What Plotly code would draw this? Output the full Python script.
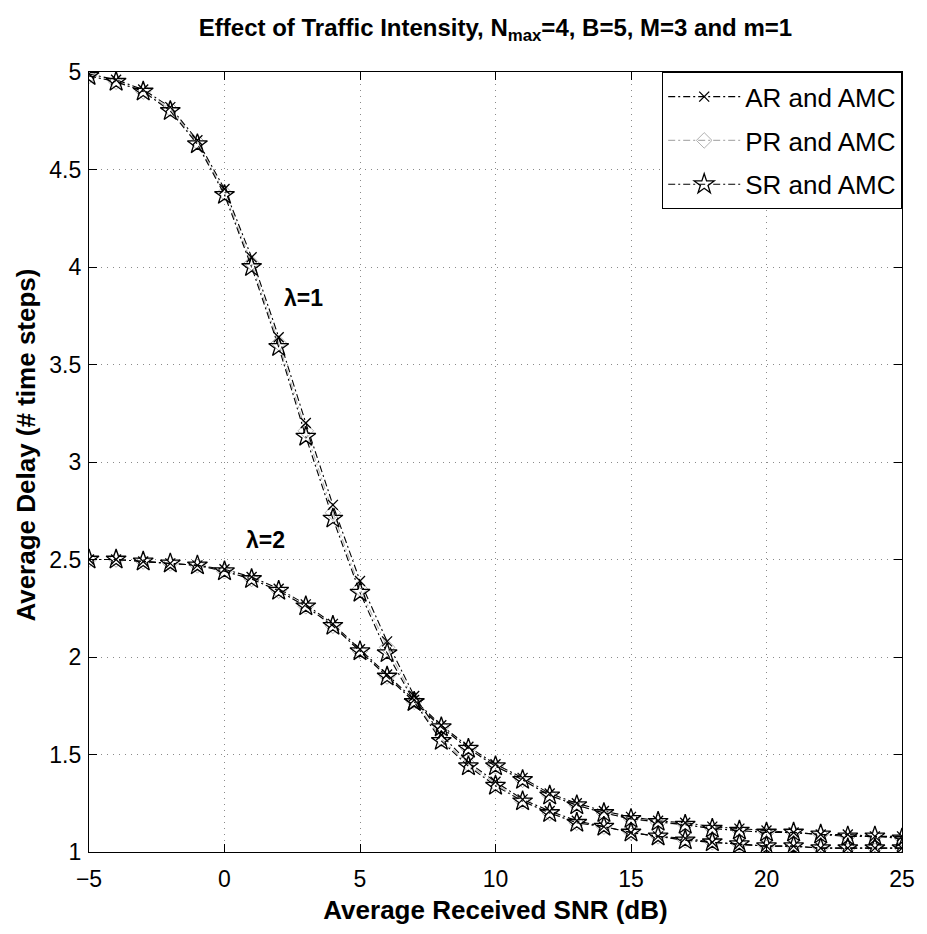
import plotly.graph_objects as go

# ---- data ----
snr_db = [-5, -4, -3, -2, -1, 0, 1, 2, 3, 4, 5, 6, 7, 8, 9, 10,
          11, 12, 13, 14, 15, 16, 17, 18, 19, 20, 21, 22, 23, 24, 25]

# lambda = 1
ar_l1 = [4.99, 4.96, 4.91, 4.82, 4.65, 4.40, 4.05, 3.64, 3.20, 2.78, 2.39, 2.08, 1.80, 1.60, 1.46, 1.36,
         1.27, 1.21, 1.16, 1.13, 1.10, 1.08, 1.07, 1.05, 1.04, 1.03, 1.03, 1.02, 1.02, 1.02, 1.02]
pr_l1 = [4.98, 4.95, 4.90, 4.81, 4.64, 4.38, 4.02, 3.61, 3.16, 2.74, 2.35, 2.05, 1.78, 1.58, 1.45, 1.35,
         1.26, 1.20, 1.15, 1.13, 1.10, 1.08, 1.06, 1.05, 1.04, 1.03, 1.03, 1.02, 1.02, 1.02, 1.02]
sr_l1 = [4.98, 4.95, 4.90, 4.80, 4.63, 4.37, 4.00, 3.59, 3.13, 2.71, 2.33, 2.02, 1.77, 1.57, 1.44, 1.34,
         1.26, 1.20, 1.15, 1.13, 1.10, 1.08, 1.06, 1.05, 1.04, 1.03, 1.03, 1.02, 1.02, 1.02, 1.02]

# lambda = 2
ar_l2 = [2.50, 2.50, 2.49, 2.48, 2.47, 2.45, 2.41, 2.35, 2.27, 2.17, 2.04, 1.91, 1.78, 1.65, 1.54, 1.45,
         1.38, 1.30, 1.25, 1.21, 1.18, 1.16, 1.15, 1.13, 1.12, 1.11, 1.10, 1.09, 1.09, 1.08, 1.08]
pr_l2 = [2.50, 2.50, 2.49, 2.48, 2.47, 2.44, 2.40, 2.34, 2.26, 2.16, 2.03, 1.90, 1.77, 1.64, 1.53, 1.44,
         1.37, 1.29, 1.24, 1.20, 1.17, 1.15, 1.14, 1.12, 1.11, 1.10, 1.10, 1.09, 1.08, 1.08, 1.07]
sr_l2 = [2.50, 2.50, 2.49, 2.48, 2.47, 2.44, 2.40, 2.34, 2.26, 2.16, 2.03, 1.90, 1.77, 1.64, 1.53, 1.44,
         1.37, 1.29, 1.24, 1.20, 1.17, 1.155, 1.14, 1.12, 1.11, 1.10, 1.10, 1.09, 1.08, 1.08, 1.07]

series_names = ["AR and AMC", "PR and AMC", "SR and AMC"]
x_ticks = [-5, 0, 5, 10, 15, 20, 25]
y_ticks = [1, 1.5, 2, 2.5, 3, 3.5, 4, 4.5, 5]
labels = ["λ=1", "λ=2"]
label_pos_x = [2.9, 1.5]
label_pos_y = [3.84, 2.60]

FONT = "Liberation Sans, Arial, Helvetica, sans-serif"
DASH = "7px,3px,2px,3px"

styles = {
    "AR and AMC": dict(color="black", symbol="x-thin-open", size=10, lw=1.3),
    "PR and AMC": dict(color="#b0b0b0", symbol="diamond-open", size=12, lw=1.0),
    "SR and AMC": dict(color="black", symbol="star-open", size=15, lw=1.3),
}

data = {
    "AR and AMC": [ar_l1, ar_l2],
    "PR and AMC": [pr_l1, pr_l2],
    "SR and AMC": [sr_l1, sr_l2],
}

fig = go.Figure()
draw_order = ["PR and AMC", "AR and AMC", "SR and AMC"]
for name in draw_order:
    st = styles[name]
    for i, ys in enumerate(data[name]):
        fig.add_trace(go.Scatter(
            x=snr_db, y=ys, mode="lines+markers", name=name,
            legendgroup=name, showlegend=(i == 0),
            legendrank=series_names.index(name) + 1,
            line=dict(color=st["color"], width=1.1, dash=DASH),
            marker=dict(symbol=st["symbol"], size=st["size"], color=st["color"],
                        line=dict(color=st["color"], width=st["lw"])),
        ))

for t, lx, ly in zip(labels, label_pos_x, label_pos_y):
    fig.add_annotation(x=lx, y=ly, text="<b>" + t + "</b>", showarrow=False,
                       font=dict(family=FONT, size=23, color="black"))

# y-axis title (placed as rotated text, as in the reference)
fig.add_annotation(x=25 / 927, xref="paper", y=(852 - 445) / 780, yref="paper",
                   xanchor="center", yanchor="middle", textangle=-90, showarrow=False,
                   text="<b>Average Delay (# time steps)</b>",
                   font=dict(family=FONT, size=26, color="black"))
fig.layout.annotations[-1].update(xref="paper")

axis_common = dict(
    showline=True, linecolor="black", linewidth=1.2, mirror="allticks",
    ticks="inside", ticklen=8, tickcolor="black", tickwidth=1,
    showgrid=True, gridcolor="#8a8a8a", griddash="1px,5px", gridwidth=1.2,
    zeroline=False, tickfont=dict(family=FONT, size=23, color="black"),
)

fig.update_layout(
    width=927, height=934, autosize=False,
    margin=dict(l=89, r=17, t=72, b=82),
    paper_bgcolor="white", plot_bgcolor="white",
    title=dict(text="<b>Effect of Traffic Intensity, N<sub>max</sub>=4, B=5, M=3 and m=1</b>",
               x=0.5, xref="paper", y=1 - 28 / 934, yref="container", yanchor="middle",
               font=dict(family=FONT, size=24, color="black")),
    xaxis=dict(range=[-5, 25], tickvals=x_ticks, ticklabelstandoff=6,
               title=dict(text="<b>Average Received SNR (dB)</b>", standoff=10,
                          font=dict(family=FONT, size=26, color="black")),
               **axis_common),
    yaxis=dict(range=[1, 5], tickvals=y_ticks, ticklabelstandoff=2,
               **axis_common),
    legend=dict(x=1.0, y=1, xanchor="right", yanchor="top",
                bordercolor="black", borderwidth=1.2, bgcolor="white",
                font=dict(family=FONT, size=26, color="black"),
                itemwidth=72, tracegroupgap=7, traceorder="grouped"),
    showlegend=True,
)

# paper-x for the rotated y title must be relative to the plot area
fig.layout.annotations[-1].update(x=(25 - 89) / (927 - 89 - 17))

fig.write_html("out.html")
